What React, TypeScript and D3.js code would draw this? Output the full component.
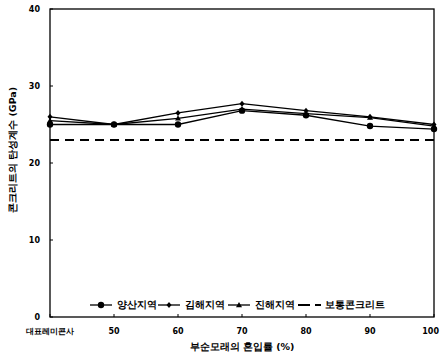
import React from "react";
import * as d3 from "d3";

const categories = ["대표레미콘사", "50", "60", "70", "80", "90", "100"];
const yangsan = [25.0, 25.0, 25.0, 26.8, 26.2, 24.8, 24.4];
const gimhae = [26.0, 25.0, 26.5, 27.7, 26.8, 26.0, 25.0];
const jinhae = [25.5, 25.0, 25.8, 27.0, 26.4, 25.9, 24.8];
const normal = [23.0, 23.0, 23.0, 23.0, 23.0, 23.0, 23.0];
const yTicks = [0, 10, 20, 30, 40];
const seriesNames = ["양산지역", "김해지역", "진해지역", "보통콘크리트"];

const W = 440, H = 357;
const left = 50, right = 434, top = 9, bottom = 317;

export default function App() {
  const x = d3.scalePoint<string>().domain(categories).range([left, right]).padding(0);
  const y = d3.scaleLinear().domain([0, 40]).range([bottom, top]);
  const line = d3.line<number>().x((_, i) => x(categories[i])!).y((d) => y(d));
  const font = "'DejaVu Sans', sans-serif";

  const marker = (type: string, cx: number, cy: number, key: string) => {
    if (type === "circle") return <circle key={key} cx={cx} cy={cy} r={3.2} fill="#000" />;
    if (type === "diamond")
      return <path key={key} d={`M${cx},${cy - 3}L${cx + 2.5},${cy}L${cx},${cy + 3}L${cx - 2.5},${cy}Z`} fill="#000" />;
    return <path key={key} d={`M${cx},${cy - 3}L${cx + 3},${cy + 2.2}L${cx - 3},${cy + 2.2}Z`} fill="#000" />;
  };

  const series = [
    { name: seriesNames[0], data: yangsan, m: "circle" },
    { name: seriesNames[1], data: gimhae, m: "diamond" },
    { name: seriesNames[2], data: jinhae, m: "triangle" },
  ];

  const legendY = 305;
  const legendItems = [
    { x: 90, m: "circle", label: seriesNames[0] },
    { x: 158, m: "diamond", label: seriesNames[1] },
    { x: 228, m: "triangle", label: seriesNames[2] },
    { x: 298, m: "dash", label: seriesNames[3] },
  ];

  return (
    <svg width={W} height={H} style={{ position: "absolute", left: 0, top: 0, background: "#fff" }}>
      <rect x={0} y={0} width={W} height={H} fill="#fff" />
      <rect x={left} y={top} width={right - left} height={bottom - top} fill="none" stroke="#000" strokeWidth={1.3} />
      {yTicks.map((t) => (
        <g key={t}>
          <line x1={left} x2={left + 3} y1={y(t)} y2={y(t)} stroke="#000" />
          <text x={left - 10} y={y(t)} dy="0.35em" textAnchor="end" fontFamily={font} fontWeight="bold" fontSize={8}>
            {t}
          </text>
        </g>
      ))}
      {categories.map((c, i) => (
        <g key={c}>
          <line x1={x(c)!} x2={x(c)!} y1={bottom} y2={bottom - 3} stroke="#000" />
          <text
            x={i === categories.length - 1 ? W - 1 : x(c)!}
            y={334}
            textAnchor={i === categories.length - 1 ? "end" : "middle"}
            fontFamily={font}
            fontWeight="bold"
            fontSize={8}
          >
            {c}
          </text>
        </g>
      ))}
      <path d={line(normal)!} fill="none" stroke="#000" strokeWidth={2} strokeDasharray="9,6" />
      {series.map((s) => (
        <g key={s.name}>
          <path d={line(s.data)!} fill="none" stroke="#000" strokeWidth={1.3} />
          {s.data.map((v, i) => marker(s.m, x(categories[i])!, y(v), s.name + i))}
        </g>
      ))}
      {legendItems.map((it) => (
        <g key={it.label}>
          {it.m === "dash" ? (
            <>
              <line x1={it.x} x2={it.x + 12} y1={legendY} y2={legendY} stroke="#000" strokeWidth={2} />
              <line x1={it.x + 17} x2={it.x + 23} y1={legendY} y2={legendY} stroke="#000" strokeWidth={2} />
            </>
          ) : (
            <>
              <line x1={it.x} x2={it.x + 22} y1={legendY} y2={legendY} stroke="#000" strokeWidth={1.3} />
              {marker(it.m, it.x + 11, legendY, it.label + "m")}
            </>
          )}
          <text x={it.x + 27} y={legendY} dy="0.35em" fontFamily={font} fontWeight="bold" fontSize={9.5}>
            {it.label}
          </text>
        </g>
      ))}
      <text x={242} y={350} textAnchor="middle" fontFamily={font} fontWeight="bold" fontSize={9.5}>
        부순모래의 혼입률 (%)
      </text>
      <text
        transform={`translate(16,150) rotate(-90)`}
        textAnchor="middle"
        fontFamily={font}
        fontWeight="bold"
        fontSize={9.5}
      >
        콘크리트의 탄성계수 (GPa)
      </text>
    </svg>
  );
}
